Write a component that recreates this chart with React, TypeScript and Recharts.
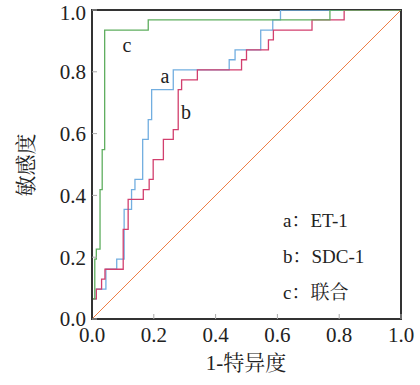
import { Line, LineChart, ReferenceArea, XAxis, YAxis } from "recharts";

// ROC step points (1-特异度, 敏感度)
const etX = [0, 0, 0.014, 0.014, 0.045, 0.045, 0.08, 0.08, 0.104, 0.104, 0.128, 0.128, 0.139, 0.139, 0.164, 0.164, 0.182, 0.182, 0.193, 0.193, 0.263, 0.263, 0.444, 0.444, 0.463, 0.463, 0.546, 0.546, 0.585, 0.585, 0.61, 0.61, 1];
const etY = [0, 0.065, 0.065, 0.097, 0.097, 0.161, 0.161, 0.194, 0.194, 0.355, 0.355, 0.419, 0.419, 0.452, 0.452, 0.581, 0.581, 0.645, 0.645, 0.742, 0.742, 0.806, 0.806, 0.839, 0.839, 0.871, 0.871, 0.935, 0.935, 0.968, 0.968, 1, 1];

const sdcX = [0, 0, 0.014, 0.014, 0.031, 0.031, 0.042, 0.042, 0.101, 0.101, 0.117, 0.117, 0.166, 0.166, 0.185, 0.185, 0.198, 0.198, 0.231, 0.231, 0.263, 0.263, 0.279, 0.279, 0.29, 0.29, 0.341, 0.341, 0.484, 0.484, 0.5, 0.5, 0.571, 0.571, 0.587, 0.587, 0.712, 0.712, 0.816, 0.816, 1];
const sdcY = [0, 0.065, 0.065, 0.097, 0.097, 0.129, 0.129, 0.161, 0.161, 0.29, 0.29, 0.387, 0.387, 0.419, 0.419, 0.452, 0.452, 0.516, 0.516, 0.581, 0.581, 0.613, 0.613, 0.742, 0.742, 0.774, 0.774, 0.806, 0.806, 0.839, 0.839, 0.871, 0.871, 0.903, 0.903, 0.935, 0.935, 0.968, 0.968, 1, 1];

const combX = [0, 0, 0.009, 0.009, 0.014, 0.014, 0.026, 0.026, 0.033, 0.033, 0.041, 0.041, 0.182, 0.182, 0.77, 0.77, 1];
const combY = [0, 0.065, 0.065, 0.194, 0.194, 0.226, 0.226, 0.419, 0.419, 0.548, 0.548, 0.935, 0.935, 0.968, 0.968, 1, 1];

const refX = [0, 1];
const refY = [0, 1];

const ticks = [0, 0.2, 0.4, 0.6, 0.8, 1];

const toPoints = (xs: number[], ys: number[]) => xs.map((x, i) => ({ x, y: ys[i] }));

const serif = "'Liberation Serif', 'Noto Serif CJK SC', 'Noto Sans CJK SC', serif";
const fmt = (v: number) => v.toFixed(1);

export default function App() {
  const tickStyle = { fontSize: 21, fill: "#222", fontFamily: serif };
  return (
    <div style={{ position: "absolute", left: 0, top: 0, background: "#fff" }}>
      <LineChart width={420} height={385} margin={{ top: 10, right: 19, bottom: 0, left: 0 }}>
        <XAxis
          dataKey="x"
          type="number"
          domain={[0, 1]}
          ticks={ticks}
          tickFormatter={fmt}
          allowDataOverflow
          height={66}
          tickSize={-5}
          tickMargin={13}
          tick={tickStyle}
          tickLine={{ stroke: "#aaa" }}
          axisLine={{ stroke: "#333", strokeWidth: 2 }}
        />
        <YAxis
          dataKey="y"
          type="number"
          domain={[0, 1]}
          ticks={ticks}
          tickFormatter={fmt}
          allowDataOverflow
          width={92}
          tickSize={-5}
          tickMargin={11}
          tick={tickStyle}
          tickLine={{ stroke: "#aaa" }}
          axisLine={{ stroke: "#333", strokeWidth: 2 }}
        />
        <ReferenceArea x1={0} x2={1} y1={0} y2={1} fill="none" stroke="#333" strokeWidth={2} strokeOpacity={1} fillOpacity={0} />
        <Line data={toPoints(refX, refY)} dataKey="y" type="linear" stroke="#ee7d45" strokeWidth={1} dot={false} isAnimationActive={false} />
        <Line data={toPoints(etX, etY)} dataKey="y" type="linear" stroke="#72aee0" strokeWidth={1.3} dot={false} isAnimationActive={false} />
        <Line data={toPoints(sdcX, sdcY)} dataKey="y" type="linear" stroke="#d23f6e" strokeWidth={1.3} dot={false} isAnimationActive={false} />
        <Line data={toPoints(combX, combY)} dataKey="y" type="linear" stroke="#5fae5f" strokeWidth={1.3} dot={false} isAnimationActive={false} />
        <text x={127} y={52} fontSize={20} fontFamily={serif} fill="#222" textAnchor="middle">c</text>
        <text x={165} y={83} fontSize={20} fontFamily={serif} fill="#222" textAnchor="middle">a</text>
        <text x={186} y={119} fontSize={20} fontFamily={serif} fill="#222" textAnchor="middle">b</text>
        <text x={283} y={227} fontSize={19} fontFamily={serif} fill="#222">a：ET-1</text>
        <text x={283} y={263} fontSize={19} fontFamily={serif} fill="#222">b：SDC-1</text>
        <text x={283} y={299} fontSize={19} fontFamily={serif} fill="#222">c：联合</text>
        <text x={246} y={370} fontSize={21} fontFamily={serif} fill="#222" textAnchor="middle">1-特异度</text>
        <text x={33} y={165} fontSize={21} fontFamily={serif} fill="#222" textAnchor="middle" transform="rotate(-90 33 165)">敏感度</text>
      </LineChart>
    </div>
  );
}
